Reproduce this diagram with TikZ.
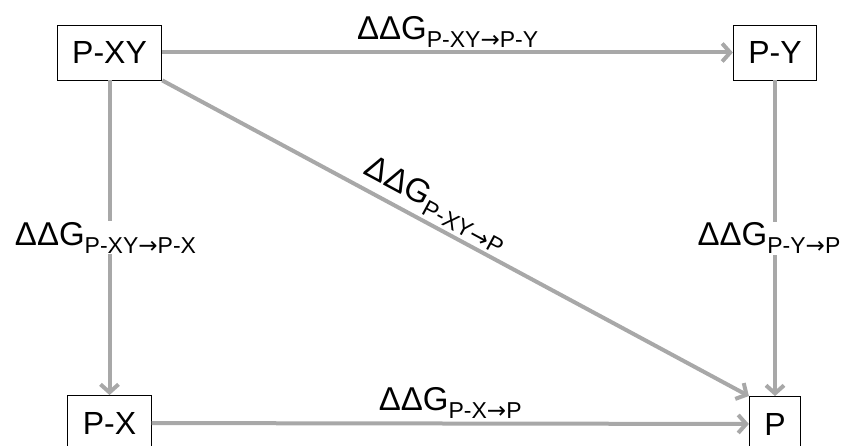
\documentclass[tikz,border=0pt]{standalone}
\usepackage{fontspec}
\setmainfont{Liberation Sans}
\newfontfamily\arrowfont{DejaVu Sans}
\usepackage{xcolor}
\usetikzlibrary{arrows.meta,positioning}
\definecolor{arrowgray}{RGB}{168,168,168}
\newcommand{\ddg}[1]{ΔΔG\raisebox{-8pt}{\fontsize{23}{23}\selectfont #1}}
\newcommand{\rarr}{{\arrowfont →}}

\begin{document}
\begin{tikzpicture}[x=1pt,y=-1pt,>={Straight Barb[length=8pt,width=18pt]},
  state/.style={draw,line width=0.9pt,fill=white,inner xsep=15pt,minimum height=55pt,font=\fontsize{32}{36}\selectfont},
  conn/.style={->,line width=4pt,draw=arrowgray},
  lab/.style={font=\fontsize{33}{36}\selectfont,inner sep=1pt}]
\useasboundingbox (0,0) rectangle (844,446);
\node[state] (PXY) at (109.5,52.5) {P-XY}; \node[state] (PY) at (775,52.5) {P-Y};
\node[state] (PX) at (109.5,423) {P-X}; \node[state] (P) at (775,424) {P};
\draw[conn] (PXY)--(PY) node[midway,above=2pt,lab]{\ddg{P-XY\rarr P-Y}};
\draw[conn] (PXY)--(PX) node[midway,lab,fill=white,xshift=-4pt]{\ddg{P-XY\rarr P-X}};
\draw[conn] (PY)--(P) node[midway,lab,fill=white,xshift=-6pt]{\ddg{P-Y\rarr P}};
\draw[conn] (PX)--(P) node[midway,above=2pt,lab]{\ddg{P-X\rarr P}};
\draw[conn] (PXY.south east)--(P.north west) node[pos=0.45,sloped,above=2pt,lab]{\ddg{P-XY\rarr P}};
\end{tikzpicture}
\end{document}
